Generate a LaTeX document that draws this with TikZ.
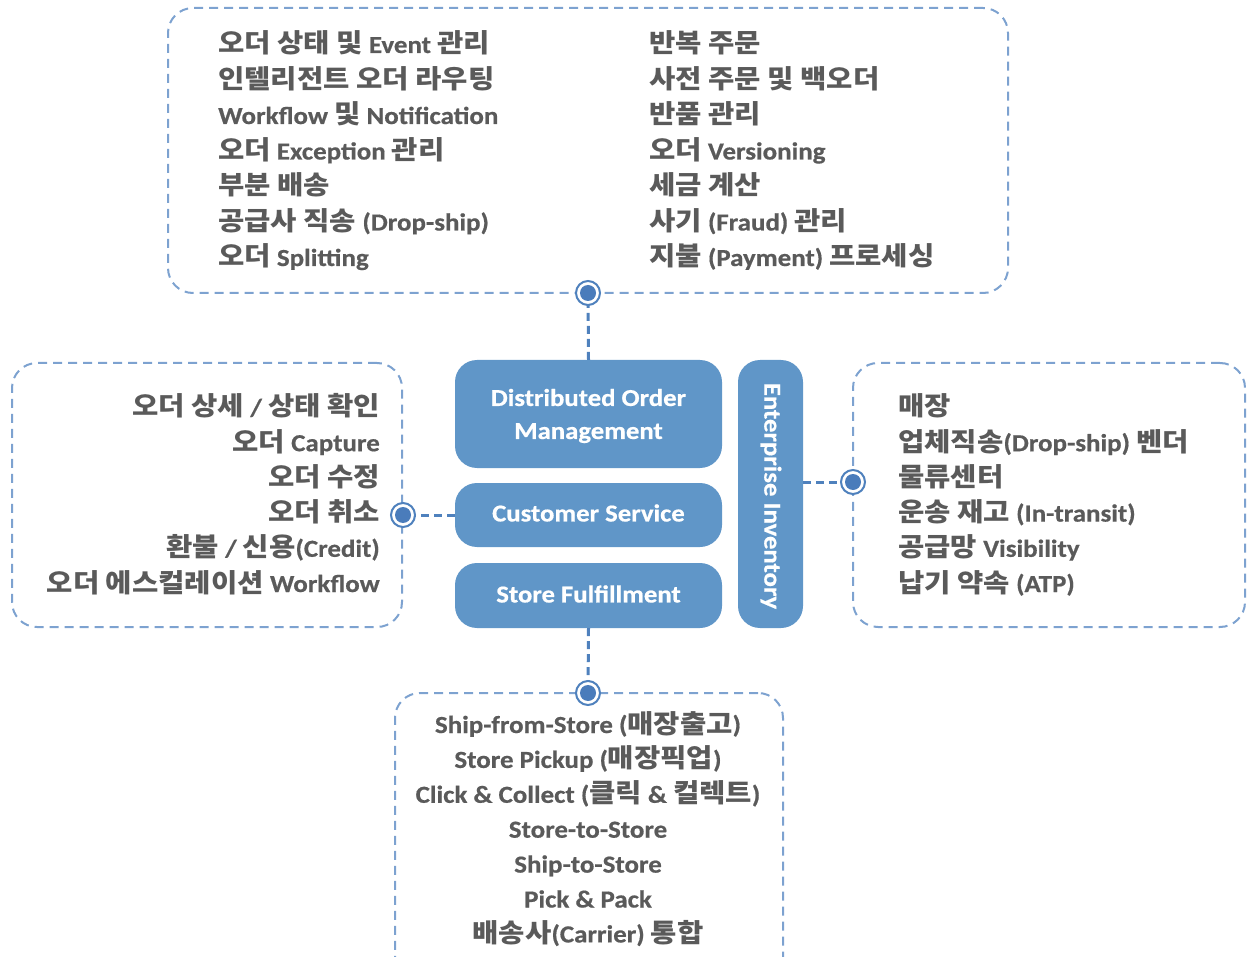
\documentclass[tikz,border=0pt]{standalone}
\usepackage{fontspec}
\setmainfont{Carlito}[FakeStretch=1.1, BoldFeatures={FakeBold=0.6}]
\newfontfamily\krfont{Noto Sans CJK KR}[FakeStretch=1.1]
\newcommand\kr[1]{{\krfont\bfseries\fontsize{26}{30}\selectfont #1}}
\definecolor{boxblue}{HTML}{6096C8}
\definecolor{dashblue}{HTML}{7DA2D0}
\definecolor{connblue}{HTML}{4F81BD}
\definecolor{dotblue}{HTML}{4A7CBB}
\definecolor{txt}{HTML}{5A5A5A}
\tikzset{
  modfont/.style={text=white, font=\bfseries\fontsize{24.3}{33}\selectfont},
  modbox/.style={fill=boxblue, rounded corners=22pt, draw=none, inner sep=0pt,
    modfont, align=center},
  groupbox/.style={draw=dashblue, line width=2pt, dash pattern=on 9pt off 6pt,
    rounded corners=25pt, inner sep=0pt},
  conn/.style={draw=connblue, line width=3pt, dash pattern=on 8pt off 5pt},
  hub/.style={circle, draw=connblue, line width=2pt, fill=white, minimum size=24pt, inner sep=0pt},
  item/.style={text=txt, font=\bfseries\fontsize{24.5}{32}\selectfont, inner sep=0pt,
    text height=18pt, text depth=0pt},
}
\begin{document}
\begin{tikzpicture}[x=1pt,y=-1pt]
\useasboundingbox (0,0) rectangle (1253,957);
\clip (0,0) rectangle (1253,957);
% group boxes
\node[groupbox, minimum width=840pt, minimum height=285pt] (gtop) at (588,150.5) {};
\node[groupbox, minimum width=390pt, minimum height=264pt] (gleft) at (207,495) {};
\node[groupbox, minimum width=392pt, minimum height=264pt] (gright) at (1049,495) {};
\node[groupbox, minimum width=388pt, minimum height=292pt] (gbot) at (589,839) {};
% modules
\node[modbox, minimum width=267pt, minimum height=108pt] (dom) at (588.5,414) {};
\node[modfont, inner sep=0pt, align=center] (domt) at (588.5,416) {Distributed Order\\Management};
\node[modbox, minimum width=267pt, minimum height=64pt] (cs) at (588.5,515) {};
\node[modfont, inner sep=0pt] (cst) at (588.5,513) {Customer Service};
\node[modbox, minimum width=267pt, minimum height=65pt] (sf) at (588.5,595.5) {};
\node[modfont, inner sep=0pt] (sft) at (588.5,594) {Store Fulfillment};
\node[modbox, minimum width=65pt, minimum height=268pt] (ei) at (770.5,494) {};
\node[modfont, inner sep=0pt, rotate=-90] (eit) at (771,496) {Enterprise Inventory};
% hubs
\coordinate (ptop) at (588,293);
\coordinate (pleft) at (403,515);
\coordinate (pright) at (853,482);
\coordinate (pbot) at (588,693);
\draw[conn] (dom.north) -- (ptop);
\draw[conn] (cs.west) -- (pleft);
\draw[conn] (ei.east |- pright) -- (pright);
\draw[conn] (sf.south) -- (pbot);
\foreach \p/\n in {ptop/htop, pleft/hleft, pright/hright, pbot/hbot}{
  \node[hub] (\n) at (\p) {};
  \fill[dotblue] (\n.center) circle (8pt);
}
% top left column
\foreach \t [count=\i] in {
  {\kr{오더 상태 및} Event \kr{관리}},
  {\kr{인텔리전트 오더 라우팅}},
  {Workflow \kr{및} Notification},
  {\kr{오더} Exception \kr{관리}},
  {\kr{부분 배송}},
  {\kr{공급사 직송} (Drop-ship)},
  {\kr{오더} Splitting}}
  \node[item, anchor=west] (tl\i) at (218,{44+35.5*(\i-1)}) {\t};
% top right column
\foreach \t [count=\i] in {
  {\kr{반복 주문}},
  {\kr{사전 주문 및 백오더}},
  {\kr{반품 관리}},
  {\kr{오더} Versioning},
  {\kr{세금 계산}},
  {\kr{사기} (Fraud) \kr{관리}},
  {\kr{지불} (Payment) \kr{프로세싱}}}
  \node[item, anchor=west] (tr\i) at (649,{44+35.5*(\i-1)}) {\t};
% left
\foreach \t [count=\i] in {
  {\kr{오더 상세} / \kr{상태 확인}},
  {\kr{오더} Capture},
  {\kr{오더 수정}},
  {\kr{오더 취소}},
  {\kr{환불} / \kr{신용}(Credit)},
  {\kr{오더 에스컬레이션} Workflow}}
  \node[item, anchor=east] (l\i) at (380,{407+35.2*(\i-1)}) {\t};
% right
\foreach \t [count=\i] in {
  {\kr{매장}},
  {\kr{업체직송}(Drop-ship) \kr{벤더}},
  {\kr{물류센터}},
  {\kr{운송 재고} (In-transit)},
  {\kr{공급망} Visibility},
  {\kr{납기 약속} (ATP)}}
  \node[item, anchor=west] (r\i) at (898,{407+35.2*(\i-1)}) {\t};
% bottom
\foreach \t [count=\i] in {
  {Ship-from-Store (\kr{매장출고})},
  {Store Pickup (\kr{매장픽업})},
  {Click \& Collect (\kr{클릭} \& \kr{컬렉트})},
  {Store-to-Store},
  {Ship-to-Store},
  {Pick \& Pack},
  {\kr{배송사}(Carrier) \kr{통합}}}
  \node[item] (b\i) at (588,{724+34.9*(\i-1)}) {\t};
\end{tikzpicture}
\end{document}
